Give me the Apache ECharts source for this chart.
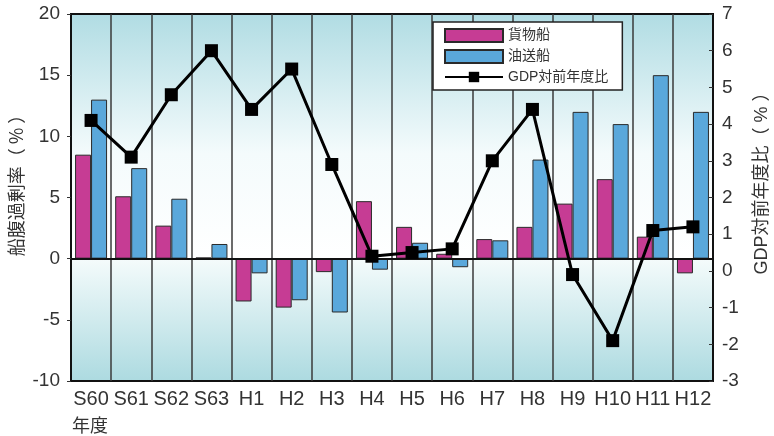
<!DOCTYPE html>
<html>
<head>
<meta charset="utf-8">
<script src="https://cdn.jsdelivr.net/npm/echarts@6/dist/echarts.min.js"></script>
<style>
  html, body { margin: 0; padding: 0; background: #ffffff; }
  #chart { width: 774px; height: 436px; }
</style>
</head>
<body>
<div id="chart"></div>
<script>
// Fiscal years (Showa / Heisei)
const years = ['S60', 'S61', 'S62', 'S63', 'H1', 'H2', 'H3', 'H4', 'H5', 'H6', 'H7', 'H8', 'H9', 'H10', 'H11', 'H12'];

// Surplus tonnage ratio (%) — cargo ships
const cargoSurplus = [8.5, 5.1, 2.7, 0.1, -3.5, -4.0, -1.1, 4.7, 2.6, 0.4, 1.6, 2.6, 4.5, 6.5, 1.8, -1.2];
// Surplus tonnage ratio (%) — tankers
const tankerSurplus = [13.0, 7.4, 4.9, 1.2, -1.2, -3.4, -4.4, -0.9, 1.3, -0.7, 1.5, 8.1, 12.0, 11.0, 15.0, 12.0];
// GDP growth over previous fiscal year (%)
const gdpGrowth = [4.1, 3.1, 4.8, 6.0, 4.4, 5.5, 2.9, 0.4, 0.5, 0.6, 3.0, 4.4, -0.1, -1.9, 1.1, 1.2];

const leftTicks = { min: -10, max: 20, interval: 5 };
const rightTicks = { min: -3, max: 7, interval: 1 };

const FONT = "'Liberation Sans', 'Noto Sans CJK JP', sans-serif";
const CJK_FONT = "'Noto Sans CJK JP', 'Liberation Sans', sans-serif";
const TEXT = '#333333';

const chart = echarts.init(document.getElementById('chart'), null, { renderer: 'canvas' });

// Plot background: teal at top and bottom, fading to white around the zero line
const bgGradient = new echarts.graphic.LinearGradient(0, 0, 0, 1, [
  { offset: 0, color: '#b0dce3' },
  { offset: 0.38, color: '#f4fbfc' },
  { offset: 0.665, color: '#ffffff' },
  { offset: 0.668, color: '#f4fbfb' },
  { offset: 1, color: '#acdae0' }
]);

chart.setOption({
  animation: false,
  textStyle: { fontFamily: FONT },
  grid: {
    left: 71, right: 61, top: 14, bottom: 55,
    show: true,
    backgroundColor: bgGradient,
    borderColor: '#111111',
    borderWidth: 2
  },
  legend: {
    orient: 'vertical',
    left: 433,
    top: 22,
    padding: [6, 14, 6, 11],
    itemGap: 6,
    itemWidth: 58,
    itemHeight: 13,
    backgroundColor: '#ffffff',
    borderColor: '#222222',
    borderWidth: 1.5,
    borderRadius: 0,
    textStyle: { fontSize: 14, color: TEXT, fontFamily: FONT },
    data: [
      { name: '貨物船', icon: 'rect' },
      { name: '油送船', icon: 'rect' },
      { name: 'GDP対前年度比' }
    ]
  },
  graphic: [
    {
      type: 'text',
      left: 72,
      top: 416,
      style: { text: '年度', fontSize: 18, fill: TEXT, fontFamily: CJK_FONT }
    },
    {
      type: 'text',
      x: 16,
      y: 181,
      rotation: Math.PI / 2,
      style: {
        text: '船腹過剰率（ % ）', fontSize: 18, fill: TEXT, fontFamily: CJK_FONT,
        align: 'center', verticalAlign: 'middle'
      }
    },
    {
      type: 'text',
      x: 762,
      y: 179,
      rotation: Math.PI / 2,
      style: {
        text: 'GDP対前年度比（ % ）', fontSize: 18, fill: TEXT, fontFamily: FONT,
        align: 'center', verticalAlign: 'middle'
      }
    }
  ],
  xAxis: {
    type: 'category',
    data: years,
    axisLine: { show: true, lineStyle: { color: '#111111', width: 2 } },
    axisTick: { show: false },
    axisLabel: { interval: 0, fontSize: 20, color: TEXT, margin: 8, fontFamily: FONT },
    splitLine: { show: true, interval: 0, lineStyle: { color: '#3a3a3a', width: 1.5 } }
  },
  yAxis: [
    {
      type: 'value',
      min: leftTicks.min, max: leftTicks.max, interval: leftTicks.interval,
      axisLine: { show: true, lineStyle: { color: '#111111', width: 2 } },
      axisTick: { show: true, length: 4, lineStyle: { color: '#333333' } },
      axisLabel: { fontSize: 19, color: TEXT, margin: 11, fontFamily: FONT },
      splitLine: { show: false }
    },
    {
      type: 'value',
      min: rightTicks.min, max: rightTicks.max, interval: rightTicks.interval,
      axisLine: { show: true, lineStyle: { color: '#111111', width: 2 } },
      axisTick: { show: true, inside: true, length: 4, lineStyle: { color: '#333333' } },
      axisLabel: { fontSize: 19, color: TEXT, margin: 9, fontFamily: FONT },
      splitLine: { show: false }
    }
  ],
  series: [
    {
      name: '貨物船',
      type: 'bar',
      yAxisIndex: 0,
      data: cargoSurplus,
      barWidth: 16,
      barGap: '0%',
      itemStyle: { color: '#c63c94', borderColor: '#2a2a2a', borderWidth: 1 },
      markLine: {
        silent: true,
        symbol: 'none',
        label: { show: false },
        lineStyle: { color: '#111111', width: 2, type: 'solid' },
        data: [{ yAxis: 0 }]
      }
    },
    {
      name: '油送船',
      type: 'bar',
      yAxisIndex: 0,
      data: tankerSurplus,
      barWidth: 16,
      barGap: '0%',
      itemStyle: { color: '#5aa8db', borderColor: '#2a2a2a', borderWidth: 1 }
    },
    {
      name: 'GDP対前年度比',
      type: 'line',
      yAxisIndex: 1,
      data: gdpGrowth,
      symbol: 'rect',
      symbolSize: 13,
      z: 5,
      lineStyle: { color: '#000000', width: 3 },
      itemStyle: { color: '#000000' }
    }
  ]
});
</script>
</body>
</html>
